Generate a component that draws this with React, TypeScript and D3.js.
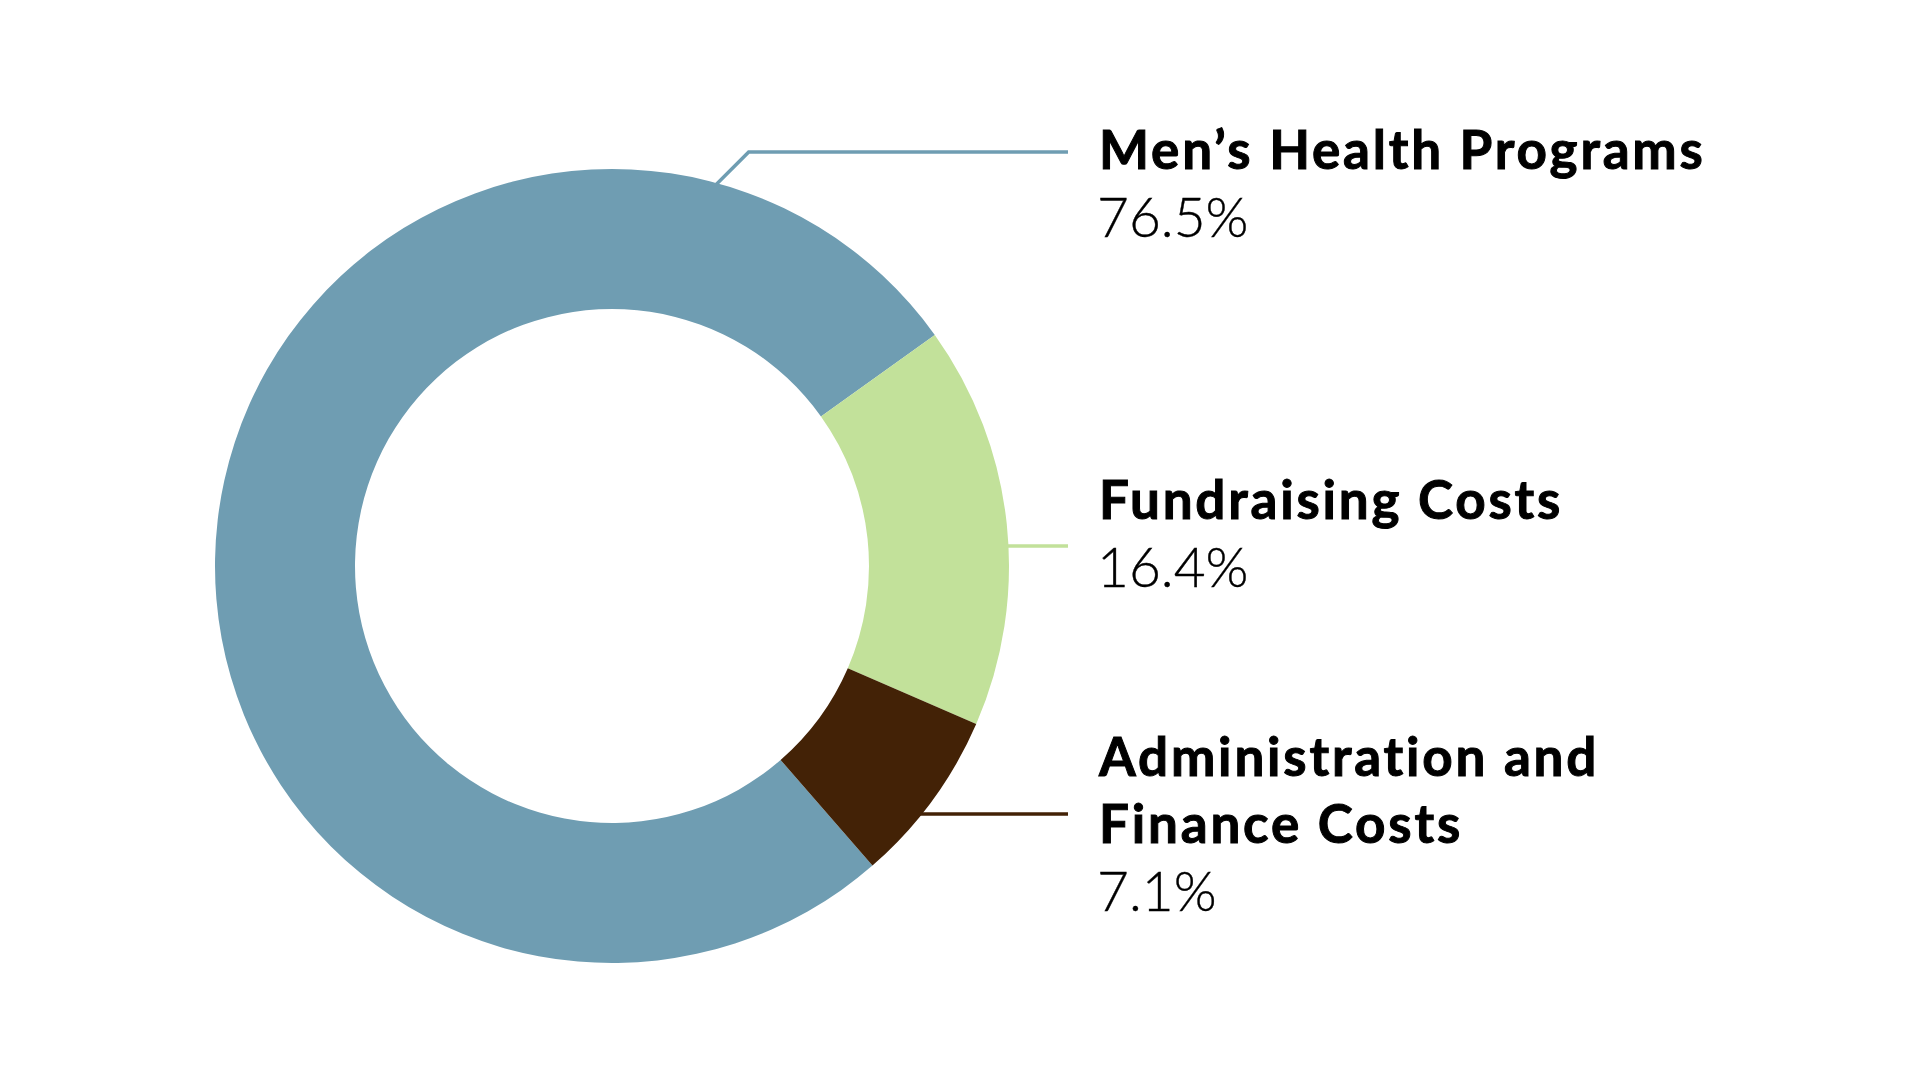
import React from "react";
import * as d3 from "d3";

const categories = ["Men’s Health Programs", "Fundraising Costs", "Administration and Finance Costs"];
const labelLines = [["Men’s Health Programs"], ["Fundraising Costs"], ["Administration and", "Finance Costs"]];
const values = [76.5, 16.4, 7.1];
const valueLabels = ["76.5%", "16.4%", "7.1%"];
const colors = ["#6f9db2", "#c2e19a", "#432206"];

const W = 1920;
const H = 1080;
const CX = 612;
const CY = 566;
const R_OUT = 397;
const R_IN = 257;
const START_DEG = 139;
const TEXT_X = 1099;
const LINE_END_X = 1068;
const LINE_GAP = 67;
// label first-line baselines and leader line y positions
const labelBaselines = [169, 519, 776];
const leaderY = [152, 546, 814];
const mensAnchorDeg = 15.4;

export default function App() {
  const rad = (d: number) => (d * Math.PI) / 180;
  const pie = d3
    .pie<number>()
    .sort(null)
    .startAngle(rad(START_DEG))
    .endAngle(rad(START_DEG + 360));
  const arcs = pie(values);
  const arc = d3.arc<d3.PieArcDatum<number>>().innerRadius(R_IN).outerRadius(R_OUT);

  const outerX = (y: number) => CX + Math.sqrt(R_OUT * R_OUT - (y - CY) * (y - CY));

  const leaders: string[] = [];
  {
    const a = rad(mensAnchorDeg);
    const x0 = CX + R_OUT * Math.sin(a);
    const y0 = CY - R_OUT * Math.cos(a);
    const dy = y0 - leaderY[0];
    const line = d3.line();
    leaders.push(
      line([
        [x0 - 4, y0 + 4],
        [x0 + dy, leaderY[0]],
        [LINE_END_X, leaderY[0]],
      ]) as string
    );
  }
  for (let i = 1; i < 3; i++) {
    const line = d3.line();
    leaders.push(
      line([
        [outerX(leaderY[i]) - 6, leaderY[i]],
        [LINE_END_X, leaderY[i]],
      ]) as string
    );
  }

  return (
    <svg
      width={W}
      height={H}
      viewBox={`0 0 ${W} ${H}`}
      style={{ position: "absolute", left: 0, top: 0, background: "#fff", display: "block" }}
    >
      <rect x={0} y={0} width={W} height={H} fill="#fff" />
      {leaders.map((d, i) => (
        <path key={"l" + i} d={d} fill="none" stroke={colors[i]} strokeWidth={3.5} />
      ))}
      <g transform={`translate(${CX},${CY})`}>
        {arcs.map((a, i) => (
          <path key={categories[i]} d={arc(a) as string} fill={colors[i]} />
        ))}
      </g>
      {categories.map((c, i) => {
        const lines = labelLines[i];
        const base = labelBaselines[i];
        return (
          <g key={"t" + c}>
            {lines.map((t, j) => (
              <text
                key={j}
                x={TEXT_X}
                y={base + j * LINE_GAP}
                fontFamily="Lato, 'Open Sans', sans-serif"
                fontWeight={700}
                fontSize={53}
                letterSpacing={2.8}
                stroke="#000"
                strokeWidth={1}
                fill="#000"
              >
                {t}
              </text>
            ))}
            <text
              x={TEXT_X - 2}
              y={base + lines.length * LINE_GAP + 1}
              fontFamily="Lato, 'Open Sans', sans-serif"
              fontWeight={300}
              fontSize={55}
              stroke="#000"
              strokeWidth={0.4}
              fill="#000"
            >
              {valueLabels[i]}
            </text>
          </g>
        );
      })}
    </svg>
  );
}
